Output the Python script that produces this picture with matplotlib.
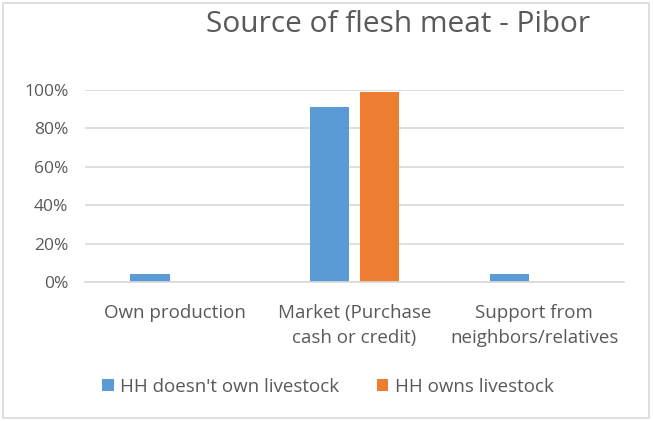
import matplotlib.pyplot as plt
import numpy as np
from matplotlib.patches import Rectangle
from matplotlib.ticker import PercentFormatter

categories = ["Own production", "Market (Purchase\ncash or credit)", "Support from\nneighbors/relatives"]
series_names = ["HH doesn't own livestock", "HH owns livestock"]
no_livestock = [0.04, 0.91, 0.04]
owns_livestock = [0.0, 0.99, 0.0]
colors = ["#5b9bd5", "#ed7d31"]
text_color = "#595959"

plt.rcParams["font.family"] = ["Open Sans", "DejaVu Sans"]

fig = plt.figure(figsize=(6.53, 4.21), dpi=100)
ax = fig.add_axes([85 / 653, 1 - 282 / 421, (624 - 85) / 653, (282 - 90) / 421])

x = np.arange(len(categories))
width = 0.22
gap = 0.056
offset = (width + gap) / 2
ax.bar(x - offset, no_livestock, width, color=colors[0], label=series_names[0])
ax.bar(x + offset, owns_livestock, width, color=colors[1], label=series_names[1])

ax.set_xlim(-0.5, len(categories) - 0.5)
ax.set_ylim(0, 1.0)
ax.set_yticks(np.arange(0, 1.01, 0.2))
ax.yaxis.set_major_formatter(PercentFormatter(1.0, decimals=0))
ax.grid(axis="y", color="#d9d9d9", linewidth=1.2)
ax.set_axisbelow(True)
for side in ["top", "right", "left"]:
    ax.spines[side].set_visible(False)
ax.spines["bottom"].set_color("#d9d9d9")
ax.spines["bottom"].set_linewidth(1.2)
ax.tick_params(length=0)
ax.tick_params(axis="y", labelsize=12.5, labelcolor=text_color, pad=12)
ax.set_xticks(x)
ax.set_xticklabels(categories, fontsize=13.5, color=text_color, linespacing=1.5)
ax.tick_params(axis="x", pad=16)

fig.text(398 / 653, 1 - 25 / 421, "Source of flesh meat - Pibor", ha="center", va="center",
         fontsize=21.5, color=text_color)

fig.legend(loc="center", bbox_to_anchor=(328 / 653, 1 - 387 / 421), ncol=2, frameon=False,
           fontsize=13.5, labelcolor=text_color, handlelength=0.6, handleheight=0.6,
           handletextpad=0.35, columnspacing=2.0)

# thin frame around the whole chart
fig.patches.append(Rectangle((0.004, 0.006), 0.99, 0.988, transform=fig.transFigure,
                             fill=False, edgecolor="#d9d9d9", linewidth=1.2))

fig.savefig("out.png", dpi=100, facecolor="white")
